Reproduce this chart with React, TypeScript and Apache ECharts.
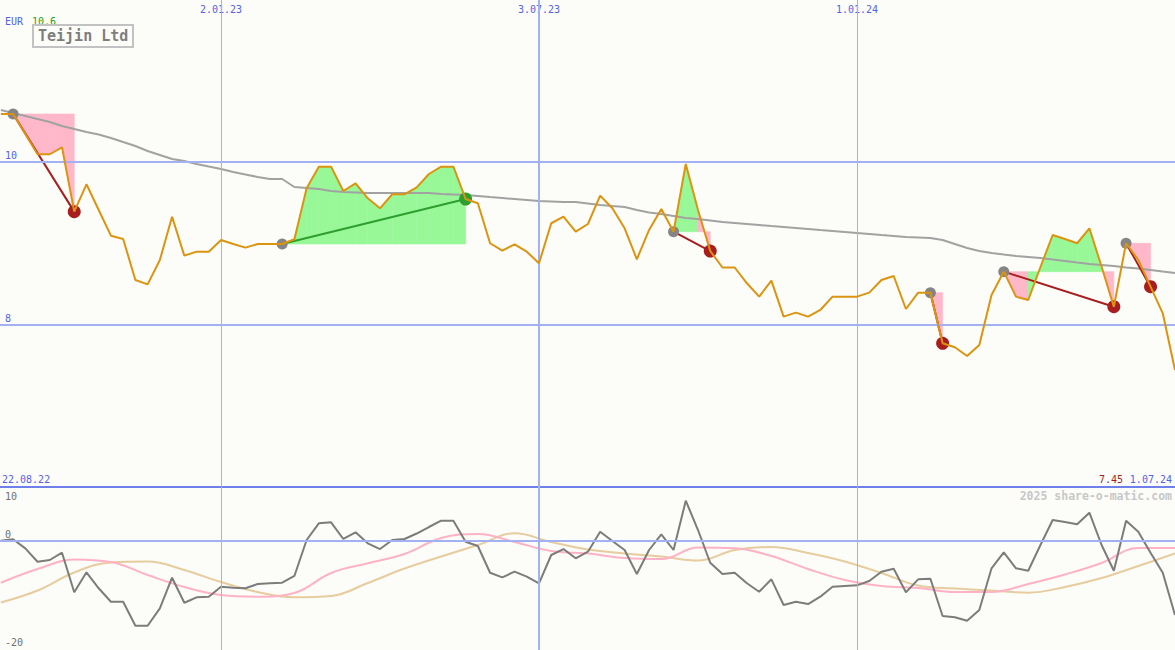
import React, { useEffect, useRef } from "react";
import * as echarts from "echarts";

// ---- data ----
const weekIndex: number[] = Array.from({ length: 97 }, (_, i) => i + 1); // weeks since 22.08.22
const price: number[] = [
  10.584, 10.584, 10.339, 10.091, 10.091, 10.176, 9.388, 9.723, 9.408, 9.094,
  9.053, 8.551, 8.498, 8.796, 9.326, 8.849, 8.898, 8.898, 9.041, 8.992,
  8.947, 8.992, 8.992, 8.992, 9.05, 9.674, 9.939, 9.939, 9.641, 9.735,
  9.552, 9.429, 9.601, 9.601, 9.686, 9.849, 9.939, 9.939, 9.543, 9.491,
  9.001, 8.91, 8.988, 8.898, 8.756, 9.246, 9.326, 9.143, 9.237, 9.584,
  9.429, 9.184, 8.805, 9.164, 9.421, 9.143, 9.972, 9.408, 8.906, 8.704,
  8.704, 8.511, 8.347, 8.543, 8.102, 8.151, 8.102, 8.184, 8.347, 8.347,
  8.347, 8.396, 8.551, 8.6, 8.196, 8.396, 8.396, 7.776, 7.727, 7.62,
  7.755, 8.367, 8.653, 8.347, 8.306, 8.71, 9.102, 9.053, 9.001, 9.184,
  8.714, 8.224, 9.001, 8.796, 8.469, 8.143, 7.449,
];
const movingAvg: number[] = [
  10.633, 10.596, 10.56, 10.523, 10.486, 10.437, 10.4, 10.364, 10.333, 10.29,
  10.241, 10.192, 10.131, 10.082, 10.033, 10.009, 9.972, 9.941, 9.911, 9.874,
  9.843, 9.813, 9.788, 9.788, 9.69, 9.678, 9.666, 9.642, 9.629, 9.623,
  9.617, 9.617, 9.617, 9.617, 9.617, 9.617, 9.604, 9.598, 9.592, 9.58,
  9.567, 9.555, 9.543, 9.531, 9.519, 9.513, 9.506, 9.506, 9.488, 9.47,
  9.457, 9.445, 9.409, 9.378, 9.359, 9.335, 9.31, 9.298, 9.28, 9.261,
  9.249, 9.237, 9.225, 9.212, 9.2, 9.188, 9.176, 9.163, 9.151, 9.139,
  9.127, 9.115, 9.102, 9.09, 9.078, 9.072, 9.066, 9.041, 8.992, 8.943,
  8.907, 8.882, 8.863, 8.845, 8.833, 8.821, 8.802, 8.784, 8.765, 8.747,
  8.735, 8.723, 8.704, 8.692, 8.674, 8.655, 8.637,
];
const oscillator: number[] = [
  0, 0.26, -1.42, -3.91, -3.59, -2.23, -9.61, -5.88, -8.86, -11.36,
  -11.36, -15.83, -15.83, -12.59, -6.89, -11.55, -10.54, -10.43, -8.57, -8.75,
  -8.86, -8.06, -7.93, -7.82, -6.57, 0.13, 3.24, 3.43, 0.32, 1.56,
  -0.48, -1.55, 0.13, 0.32, 1.34, 2.55, 3.72, 3.72, -0.19, -0.99,
  -5.96, -6.82, -5.77, -6.7, -7.93, -2.66, -1.55, -3.28, -2.05, 1.68,
  -0.06, -1.73, -6.2, -1.73, 1.19, -1.73, 7.45, 1.99, -4.1, -6.2,
  -5.96, -7.93, -9.5, -7.19, -11.97, -11.36, -11.79, -10.43, -8.57, -8.44,
  -8.31, -7.5, -5.77, -5.21, -9.61, -7.19, -7.08, -14.02, -14.26, -14.9,
  -12.91, -5.14, -2.16, -5.14, -5.59, -0.8, 3.85, 3.48, 3.05, 5.21,
  -0.8, -5.59, 3.72, 1.68, -2.23, -5.96, -13.84,
];
const smoothWeeks: number[] = [
  1, 4, 7, 10, 13, 16, 19, 22, 25, 28, 31, 34, 37, 40, 43, 46, 49,
  52, 55, 58, 61, 64, 67, 70, 73, 76, 79, 82, 85, 88, 91, 94, 97,
];
const oscFast: number[] = [
  -7.82, -5.27, -3.5, -3.97, -6.39, -8.62, -10.11, -10.43, -9.74, -6.01, -4.21, -2.48, 0.5, 1.25, -0.24, -1.92, -2.38,
  -3.22, -3.41, -1.27, -1.42, -2.85, -5.27, -7.32, -8.44, -8.81, -9.55, -9.55, -8.06, -6.29, -4.15, -1.36, -1.36,
];
const oscSlow: number[] = [
  -11.51, -9.27, -5.92, -4.06, -3.87, -5.46, -7.69, -9.55, -10.54, -10.3, -7.88, -5.18, -2.94, -0.8, 1.38, -0.24, -1.64,
  -2.38, -2.94, -3.69, -1.73, -1.17, -2.29, -3.87, -6.01, -8.34, -8.9, -9.27, -9.68, -8.62, -6.95, -4.71, -2.38,
];
const signalStart: number[] = [2, 24, 56, 77, 83, 93];
const signalEnd: number[] = [7, 39, 59, 78, 92, 95];
const tickWeeks: number[] = [19, 45, 71];
const tickLabels: string[] = ["2.01.23", "3.07.23", "1.01.24"];
const tickWidths: number[] = [1, 2, 1];
const priceGrid: number[] = [10, 8];
const firstDate = "22.08.22";
const lastDate = "1.07.24";
const currency = "EUR";
const stockName = "Teijin Ltd";
const watermark = "2025 share-o-matic.com";

// ---- styles ----
const MONO = '"DejaVu Sans Mono", monospace';
const BLUE_TXT = "#5262ec";
const GRID_BLUE = "#a3b0f2";
const SEP_BLUE = "#6f80ea";
const PINK_FILL = "#ffb7ca";
const GREEN_FILL = "#98f898";
const LOSS = "#a81e1e";
const GAIN = "#2e9e2e";
const BG = "#fcfdf8";
const CLEAR = "rgba(0,0,0,0)";

export default function App() {
  const ref = useRef<HTMLDivElement>(null);
  useEffect(() => {
    if (!ref.current) return;
    document.body.style.margin = "0";
    document.body.style.background = BG;
    const chart = echarts.init(ref.current, undefined, { renderer: "svg" });

    const pAt = (w: number) => price[w - 1];
    const segData: number[][] = [];
    signalStart.forEach((s, k) => {
      const e = signalEnd[k];
      const base = pAt(s);
      for (let w = s; w < e; w++) {
        segData.push([w, pAt(w), w + 1, pAt(w + 1), base, pAt(w + 1) >= base ? 1 : 0]);
      }
    });
    const linkData = signalStart.map((s, k) => {
      const e = signalEnd[k];
      return {
        coords: [[s, pAt(s)], [e, pAt(e)]],
        lineStyle: { color: pAt(e) >= pAt(s) ? GAIN : LOSS, width: 2, opacity: 1 },
      };
    });
    const startPts = signalStart.map((s) => [s, pAt(s)]);
    const endPts = signalStart.map((s, k) => {
      const e = signalEnd[k];
      return { value: [e, pAt(e)], itemStyle: { color: pAt(e) >= pAt(s) ? GAIN : LOSS, opacity: 1 } };
    });

    const xMin = 0.93;
    const xMax = 97;
    const vLines = tickWeeks.map((w, i) => ({
      xAxis: w,
      lineStyle: { width: tickWidths[i], color: GRID_BLUE, type: "solid" },
      label: { show: false },
    }));

    const maxPrice = Math.max(...price);
    const lastPrice = price[price.length - 1];

    const option: any = {
      animation: false,
      backgroundColor: BG,
      grid: [
        { left: 0, right: 0, top: 0, height: 487 },
        { left: 0, right: 0, top: 487, height: 163 },
      ],
      xAxis: [
        {
          type: "value", gridIndex: 0, min: xMin, max: xMax, position: "top",
          axisLine: { show: false }, axisTick: { show: false }, splitLine: { show: false },
          axisLabel: {
            show: true, inside: true, customValues: tickWeeks,
            formatter: (v: number) => tickLabels[tickWeeks.indexOf(v)] ?? "",
            color: BLUE_TXT, fontFamily: MONO, fontSize: 10, margin: 4,
          },
        },
        {
          type: "value", gridIndex: 1, min: xMin, max: xMax, position: "top",
          axisLine: { show: true, onZero: false, lineStyle: { color: SEP_BLUE, width: 2 } },
          axisTick: { show: false }, splitLine: { show: false }, axisLabel: { show: false },
        },
      ],
      yAxis: [
        { type: "value", gridIndex: 0, min: 6.016, max: 11.98, show: false, splitLine: { show: false } },
        { type: "value", gridIndex: 1, min: -20.35, max: 10.0, show: false, splitLine: { show: false } },
      ],
      series: [
        {
          type: "custom", xAxisIndex: 0, yAxisIndex: 0, z: 1, silent: true,
          data: segData,
          renderItem: (_p: any, api: any) => {
            const x0 = api.value(0), y0 = api.value(1), x1 = api.value(2), y1 = api.value(3);
            const base = api.value(4);
            const col = api.value(5) ? GREEN_FILL : PINK_FILL;
            const pts = [api.coord([x0, base]), api.coord([x0, y0]), api.coord([x1, y1]), api.coord([x1, base])];
            return { type: "polygon", shape: { points: pts }, style: { fill: col, stroke: col, lineWidth: 0.6 } };
          },
        },
        {
          type: "line", xAxisIndex: 0, yAxisIndex: 0, z: 2, symbol: "none", silent: true,
          data: weekIndex.map((w, i) => [w, movingAvg[i]]),
          lineStyle: { color: "#a2a2a2", width: 2 },
          markLine: {
            silent: true, symbol: ["none", "none"],
            label: { position: "insideStartTop", color: BLUE_TXT, fontFamily: MONO, fontSize: 10, distance: [5, 1] },
            data: [
              ...priceGrid.map((v) => ({ yAxis: v, lineStyle: { color: GRID_BLUE, width: 2, type: "solid" }, label: { formatter: String(v) } })),
              ...vLines,
            ],
          },
        },
        {
          type: "lines", coordinateSystem: "cartesian2d", xAxisIndex: 0, yAxisIndex: 0, z: 3, silent: true,
          lineStyle: { opacity: 1, width: 2 },
          data: linkData,
        },
        {
          type: "scatter", xAxisIndex: 0, yAxisIndex: 0, z: 4, silent: true,
          data: startPts, symbolSize: 11, itemStyle: { color: "#858585", opacity: 1 },
        },
        {
          type: "scatter", xAxisIndex: 0, yAxisIndex: 0, z: 4, silent: true,
          data: endPts, symbolSize: 13, itemStyle: { opacity: 1 },
        },
        {
          type: "line", xAxisIndex: 0, yAxisIndex: 0, z: 5, symbol: "none", silent: true,
          data: weekIndex.map((w, i) => [w, price[i]]),
          lineStyle: { color: "#dc9410", width: 2 },
        },
        {
          type: "line", xAxisIndex: 1, yAxisIndex: 1, z: 2, symbol: "none", silent: true, smooth: 0.4,
          data: smoothWeeks.map((w, i) => [w, oscSlow[i]]),
          lineStyle: { color: "#e6cc9e", width: 2 },
          markLine: {
            silent: true, symbol: ["none", "none"],
            label: { color: "#707070", fontFamily: MONO, fontSize: 10, distance: [5, 1] },
            data: [
              { yAxis: 0, lineStyle: { color: GRID_BLUE, width: 2, type: "solid" }, label: { position: "insideStartTop", formatter: "0" } },
              { yAxis: 9.99, lineStyle: { color: CLEAR, width: 1 }, label: { position: "insideStartBottom", formatter: "10", distance: [5, 4] } },
              { yAxis: -20, lineStyle: { color: CLEAR, width: 1 }, label: { position: "insideStartTop", formatter: "-20" } },
              ...vLines,
            ],
          },
        },
        {
          type: "line", xAxisIndex: 1, yAxisIndex: 1, z: 3, symbol: "none", silent: true, smooth: 0.4,
          data: smoothWeeks.map((w, i) => [w, oscFast[i]]),
          lineStyle: { color: "#ffb2c6", width: 2 },
        },
        {
          type: "line", xAxisIndex: 1, yAxisIndex: 1, z: 4, symbol: "none", silent: true,
          data: weekIndex.map((w, i) => [w, oscillator[i]]),
          lineStyle: { color: "#7c7c7c", width: 2 },
        },
      ],
      graphic: [
        { type: "text", x: 5, y: 21, style: { text: currency, fill: BLUE_TXT, font: `10px ${MONO}`, textVerticalAlign: "middle" } },
        { type: "text", x: 32, y: 21, style: { text: maxPrice.toFixed(1), fill: "#22a022", font: `10px ${MONO}`, textVerticalAlign: "middle" } },
        { type: "rect", shape: { x: 33, y: 25, width: 100, height: 22 }, style: { fill: "none", stroke: "#c2c2c2", lineWidth: 2 } },
        { type: "text", x: 38, y: 36, style: { text: stockName, fill: "#7e7e7e", font: `bold 15px ${MONO}`, textVerticalAlign: "middle" } },
        { type: "text", x: 2, y: 479, style: { text: firstDate, fill: BLUE_TXT, font: `10px ${MONO}`, textVerticalAlign: "middle" } },
        { type: "text", x: 1172, y: 479, style: { text: lastDate, fill: BLUE_TXT, font: `10px ${MONO}`, textAlign: "right", textVerticalAlign: "middle" } },
        { type: "text", x: 1123, y: 479, style: { text: lastPrice.toFixed(2), fill: LOSS, font: `10px ${MONO}`, textAlign: "right", textVerticalAlign: "middle" } },
        { type: "text", x: 1172, y: 496, style: { text: watermark, fill: "#c8c8c8", font: `bold 11.5px ${MONO}`, textAlign: "right", textVerticalAlign: "middle" } },
      ],
    };
    chart.setOption(option);
    return () => chart.dispose();
  }, []);
  return <div ref={ref} style={{ position: "fixed", left: 0, top: 0, width: 1175, height: 650 }} />;
}
